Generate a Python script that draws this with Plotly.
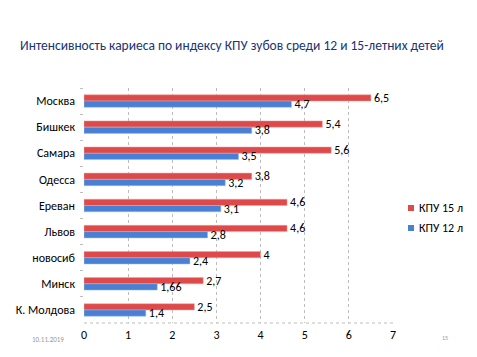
import plotly.graph_objects as go

categories = ["Москва", "Бишкек", "Самара", "Одесса", "Ереван", "Львов", "новосиб", "Минск", "К. Молдова"]
kpu15 = [6.5, 5.4, 5.6, 3.8, 4.6, 4.6, 4, 2.7, 2.5]
kpu12 = [4.7, 3.8, 3.5, 3.2, 3.1, 2.8, 2.4, 1.66, 1.4]
series_names = ["КПУ 15 л", "КПУ 12 л"]
x_ticks = [0, 1, 2, 3, 4, 5, 6, 7]
colors = ["#DE4A4A", "#4A80D4"]

FONT = "Carlito, Lato, 'Liberation Sans', sans-serif"

def fmt(v):
    return (("%g" % v)).replace(".", ",")

fig = go.Figure()
for vals, name, col, edge in [(kpu15, series_names[0], colors[0], "#F2A0A0"),
                              (kpu12, series_names[1], colors[1], "#9DBDEB")]:
    fig.add_trace(go.Bar(
        y=categories, x=vals, orientation="h", name=name, showlegend=False,
        marker=dict(color=col, line=dict(color=edge, width=0.5)),
        text=[fmt(v) for v in vals], textposition="outside", constraintext="none",
        textfont=dict(size=12, color="#000000", family=FONT), cliponaxis=False,
    ))

fig.update_layout(
    width=477, height=357,
    margin=dict(l=84, r=84, t=88, b=34, autoexpand=False),
    paper_bgcolor="white", plot_bgcolor="white",
    barmode="group", bargap=0.52, bargroupgap=0,
    font=dict(family=FONT, size=12, color="#000000"),
    title=dict(
        text="Интенсивность кариеса по индексу КПУ зубов среди 12 и 15-летних детей",
        x=20 / 477, xref="container", xanchor="left",
        y=1 - 45 / 357, yref="container", yanchor="middle",
        font=dict(family=FONT, size=13.5, color="#1A3570"),
    ),
    xaxis=dict(
        range=[0, 7], tickvals=x_ticks, ticktext=[str(t) for t in x_ticks],
        showgrid=True, gridcolor="#BDBDBD", griddash="dot", gridwidth=1,
        zeroline=False, showline=False, ticks="",
        tickfont=dict(size=12, family=FONT), ticklabelstandoff=3, automargin=False,
    ),
    yaxis=dict(
        autorange="reversed", showgrid=False, zeroline=False,
        ticks="outside", tickson="boundaries", ticklen=3, tickcolor="#BDBDBD",
        tickfont=dict(size=12, family=FONT), ticklabelstandoff=8, automargin=False,
    ),
    showlegend=False,
)

# legend (small square + label), drawn in pixel-derived paper coordinates
def px_x(px):
    return (px - 84) / 309

def px_y(py):
    return (323 - py) / 235

for i, (name, col) in enumerate(zip(series_names, colors)):
    cy = 208 + 20 * i
    fig.add_shape(type="rect", xref="paper", yref="paper",
                  x0=px_x(408), x1=px_x(414), y0=px_y(cy - 3), y1=px_y(cy + 3),
                  fillcolor=col, line=dict(width=0))
    fig.add_annotation(text=name, xref="paper", yref="paper",
                       x=px_x(417), y=px_y(cy), xanchor="left", yanchor="middle",
                       showarrow=False, font=dict(size=12, color="#000000", family=FONT))

fig.add_shape(type="line", xref="paper", yref="paper", x0=0, x1=1, y0=0, y1=0,
              line=dict(color="#BDBDBD", width=1, dash="dot"))

fig.add_annotation(text="10.11.2019", xref="paper", yref="paper",
                   x=px_x(30), y=px_y(339), xanchor="left", yanchor="middle",
                   showarrow=False, font=dict(size=7, color="#9A9A9A", family=FONT))
fig.add_annotation(text="15", xref="paper", yref="paper",
                   x=px_x(445), y=px_y(338), xanchor="center", yanchor="middle",
                   showarrow=False, font=dict(size=6, color="#9A9A9A", family=FONT))

fig.write_html(
    "out.html",
    config={"displayModeBar": False},
    post_script="document.body.style.margin='0px';document.body.style.overflow='hidden';",
)
